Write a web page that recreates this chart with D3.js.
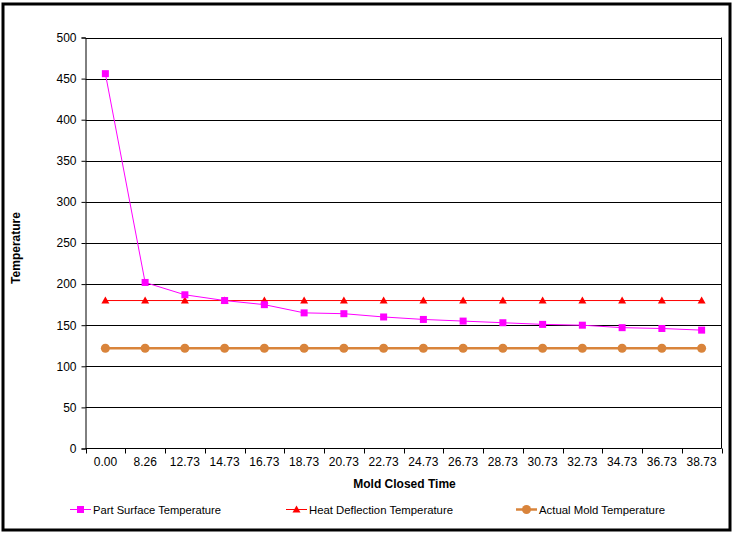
<!DOCTYPE html>
<html>
<head>
<meta charset="utf-8">
<script src="https://cdn.jsdelivr.net/npm/d3@7"></script>
<style>
  body { margin: 0; background: #fff; }
  svg { display: block; font-family: "Liberation Sans", Arial, sans-serif; }
</style>
</head>
<body>
<svg id="chart" width="735" height="536"></svg>
<script>
// chart data
const times = ["0.00", "8.26", "12.73", "14.73", "16.73", "18.73", "20.73", "22.73",
  "24.73", "26.73", "28.73", "30.73", "32.73", "34.73", "36.73", "38.73"];
const partSurface = [456, 202, 187, 180, 175, 165, 164, 160, 157, 155, 153, 151, 150, 147, 146, 144];
const heatDeflection = [180, 180, 180, 180, 180, 180, 180, 180, 180, 180, 180, 180, 180, 180, 180, 180];
const actualMold = [122, 122, 122, 122, 122, 122, 122, 122, 122, 122, 122, 122, 122, 122, 122, 122];
const yTicks = [0, 50, 100, 150, 200, 250, 300, 350, 400, 450, 500];

const series = [
  { name: "Part Surface Temperature", values: partSurface, color: "#ff00ff", width: 1, marker: "square" },
  { name: "Heat Deflection Temperature", values: heatDeflection, color: "#ff0000", width: 1, marker: "triangle" },
  { name: "Actual Mold Temperature", values: actualMold, color: "#d9843b", width: 2.5, marker: "circle" },
];

const svg = d3.select("#chart");
const marginLeft = 85.5, marginRight = 721.5, marginTop = 37.5, marginBottom = 448.5;

// outer frame
svg.append("rect")
  .attr("x", 3).attr("y", 4)
  .attr("width", 727).attr("height", 526)
  .attr("fill", "#fff")
  .attr("stroke", "#000")
  .attr("stroke-width", 3);

const xScale = d3.scaleBand().domain(times).range([marginLeft, marginRight]);
const yScale = d3.scaleLinear().domain([0, 500]).range([marginBottom, marginTop]);

// gridlines
svg.append("g")
  .selectAll("line")
  .data(yTicks.filter((d) => d > 0))
  .join("line")
  .attr("x1", marginLeft)
  .attr("x2", marginRight)
  .attr("y1", (d) => Math.round(yScale(d)) + 0.5)
  .attr("y2", (d) => Math.round(yScale(d)) + 0.5)
  .attr("stroke", "#000");

// right border of plot area
svg.append("line")
  .attr("x1", marginRight).attr("x2", marginRight)
  .attr("y1", marginTop).attr("y2", marginBottom)
  .attr("stroke", "#000");

// y axis
const yAxis = svg.append("g")
  .attr("transform", `translate(${marginLeft}, 0)`)
  .call(d3.axisLeft(yScale).tickValues(yTicks).tickSize(4).tickPadding(5));
yAxis.selectAll("text").style("font-size", "12px").attr("fill", "#000");
yAxis.selectAll("line").attr("stroke", "#000");
yAxis.select(".domain").attr("stroke", "#000");

// x axis, ticks between categories
const xAxis = svg.append("g")
  .attr("transform", `translate(0, ${marginBottom})`)
  .call(d3.axisBottom(xScale).tickSize(0).tickPadding(9));
xAxis.selectAll("text").style("font-size", "12px").attr("fill", "#000");
xAxis.select(".domain").attr("d", `M${marginLeft},0H${marginRight}`).attr("stroke", "#000");
xAxis.selectAll(".sep")
  .data(times.concat(["end"]))
  .join("line")
  .attr("class", "sep")
  .attr("x1", (d, i) => Math.round(marginLeft + i * xScale.bandwidth()) + 0.5)
  .attr("x2", (d, i) => Math.round(marginLeft + i * xScale.bandwidth()) + 0.5)
  .attr("y1", 0).attr("y2", 5)
  .attr("stroke", "#000");

// axis titles
svg.append("text")
  .attr("x", (marginLeft + marginRight) / 2 + 1)
  .attr("y", 488)
  .attr("text-anchor", "middle")
  .style("font-size", "12px")
  .style("font-weight", "bold")
  .text("Mold Closed Time");

svg.append("text")
  .attr("transform", `translate(20, ${(marginTop + marginBottom) / 2 + 5}) rotate(-90)`)
  .attr("text-anchor", "middle")
  .style("font-size", "12px")
  .style("font-weight", "bold")
  .text("Temperature");

const cx = (i) => xScale(times[i]) + xScale.bandwidth() / 2;

function drawMarker(g, type, color, x, y) {
  if (type === "square") {
    g.append("rect").attr("x", x - 3.5).attr("y", y - 3.5)
      .attr("width", 7).attr("height", 7).attr("fill", color);
  } else if (type === "triangle") {
    g.append("path")
      .attr("d", `M${x},${y - 4}L${x + 4},${y + 3}L${x - 4},${y + 3}Z`)
      .attr("fill", color);
  } else {
    g.append("circle").attr("cx", x).attr("cy", y).attr("r", 4.5).attr("fill", color);
  }
}

// draw series (mold first, then heat deflection, then part surface on top)
[series[2], series[1], series[0]].forEach((s) => {
  const line = d3.line()
    .x((d, i) => cx(i))
    .y((d) => yScale(d));
  const g = svg.append("g");
  g.append("path")
    .datum(s.values)
    .attr("fill", "none")
    .attr("stroke", s.color)
    .attr("stroke-width", s.width)
    .attr("d", line);
  s.values.forEach((v, i) => drawMarker(g, s.marker, s.color, cx(i), yScale(v)));
});

// legend
const legendX = [70, 286, 516];
const legendW = [128, 144, 126];
series.forEach((s, i) => {
  const g = svg.append("g").attr("transform", `translate(${legendX[i]}, 509.5)`);
  g.append("line").attr("x1", 0).attr("x2", 21).attr("y1", 0).attr("y2", 0)
    .attr("stroke", s.color).attr("stroke-width", s.width);
  drawMarker(g, s.marker, s.color, 10.5, 0);
  g.append("text")
    .attr("x", 23)
    .attr("y", 4)
    .style("font-size", "11px")
    .attr("textLength", legendW[i])
    .attr("lengthAdjust", "spacingAndGlyphs")
    .text(s.name);
});
</script>
</body>
</html>
